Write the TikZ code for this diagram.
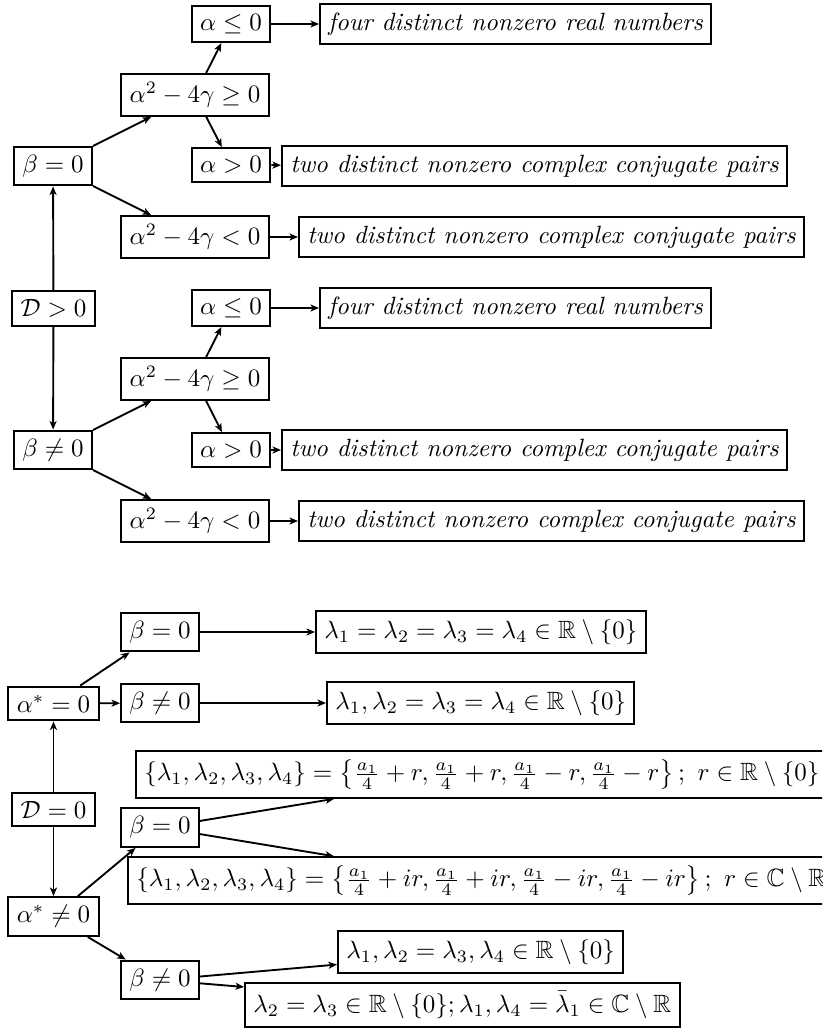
\documentclass[tikz,border=0pt]{standalone}
\usepackage{amsmath,amssymb}
\usetikzlibrary{arrows.meta,calc}
\begin{document}
\begin{tikzpicture}[x=0.4pt,y=-0.4pt,
  box/.style={draw,line width=0.8pt,inner sep=3.33pt},
  tbox/.style={box,anchor=west},
  arr/.style={line width=0.75pt,-{Stealth[length=3.4pt,width=2.8pt,inset=0.9pt]}}]
\useasboundingbox (0,0) rectangle (822,1030);
\clip (0,0) rectangle (822,1030);
% ---------- D > 0 ----------
\node[box] (dpos) at (53.5,308.5) {$\mathcal{D}>0$};
\node[box] (b0) at (53,166) {$\beta=0$};
\node[box] (bn0) at (53,450) {$\beta\neq0$};
\node[box] (q1) at (195,95) {$\alpha^2-4\gamma\geq0$};
\node[box] (q2) at (195,237) {$\alpha^2-4\gamma<0$};
\node[box] (a1) at (231,24) {$\alpha\leq0$};
\node[box] (a2) at (231,165) {$\alpha>0$};
\node[tbox] (t1) at (319,24) {\textit{four distinct nonzero real numbers}};
\node[tbox] (t2) at (281,166) {\textit{two distinct nonzero complex conjugate pairs}};
\node[tbox] (t3) at (298,237) {\textit{two distinct nonzero complex conjugate pairs}};
\node[box] (q3) at (195,379) {$\alpha^2-4\gamma\geq0$};
\node[box] (q4) at (195,521) {$\alpha^2-4\gamma<0$};
\node[box] (a3) at (231,308) {$\alpha\leq0$};
\node[box] (a4) at (231,450) {$\alpha>0$};
\node[tbox] (t4) at (319,308) {\textit{four distinct nonzero real numbers}};
\node[tbox] (t5) at (281,450) {\textit{two distinct nonzero complex conjugate pairs}};
\node[tbox] (t6) at (298,521) {\textit{two distinct nonzero complex conjugate pairs}};
\draw[arr] (dpos) -- (b0);
\draw[arr] (dpos) -- (bn0);
\draw[arr] (b0) -- (q1);
\draw[arr] (b0) -- (q2);
\draw[arr] (q1) -- (a1);
\draw[arr] (q1) -- (a2);
\draw[arr] (a1) -- (t1);
\draw[arr] (a2) -- (t2);
\draw[arr] (q2) -- (t3);
\draw[arr] (bn0) -- (q3);
\draw[arr] (bn0) -- (q4);
\draw[arr] (q3) -- (a3);
\draw[arr] (q3) -- (a4);
\draw[arr] (a3) -- (t4);
\draw[arr] (a4) -- (t5);
\draw[arr] (q4) -- (t6);
% ---------- D = 0 ----------
\node[box] (d0) at (53.5,809.5) {$\mathcal{D}=0$};
\node[box] (as0) at (53.5,703.5) {$\alpha^*=0$};
\node[box] (asn) at (53.5,916.5) {$\alpha^*\neq0$};
\node[box] (c1) at (160,632) {$\beta=0$};
\node[box] (c2) at (160,703) {$\beta\neq0$};
\node[box] (c3) at (160,827.5) {$\beta=0$};
\node[box] (c4) at (160,980) {$\beta\neq0$};
\node[tbox] (r1) at (315,632) {$\lambda_1=\lambda_2=\lambda_3=\lambda_4\in\mathbb{R}\setminus\{0\}$};
\node[tbox] (r2) at (326,703) {$\lambda_1,\lambda_2=\lambda_3=\lambda_4\in\mathbb{R}\setminus\{0\}$};
\node[tbox] (big1) at (135,774.5) {$\{\lambda_1,\lambda_2,\lambda_3,\lambda_4\}=\left\{\frac{a_1}{4}+r,\frac{a_1}{4}+r,\frac{a_1}{4}-r,\frac{a_1}{4}-r\right\};\ r\in\mathbb{R}\setminus\{0\}$};
\node[tbox] (big2) at (127,880.5) {$\{\lambda_1,\lambda_2,\lambda_3,\lambda_4\}=\left\{\frac{a_1}{4}+ir,\frac{a_1}{4}+ir,\frac{a_1}{4}-ir,\frac{a_1}{4}-ir\right\};\ r\in\mathbb{C}\setminus\mathbb{R}$};
\node[tbox] (r3) at (337,952) {$\lambda_1,\lambda_2=\lambda_3,\lambda_4\in\mathbb{R}\setminus\{0\}$};
\node[tbox] (r4) at (244,1005) {$\lambda_2=\lambda_3\in\mathbb{R}\setminus\{0\};\lambda_1,\lambda_4=\bar{\lambda}_1\in\mathbb{C}\setminus\mathbb{R}$};
\draw[arr] (d0) -- (as0);
\draw[arr] (d0) -- (asn);
\draw[arr] (as0) -- (c1);
\draw[arr] (as0) -- (c2);
\draw[arr] (c1) -- (r1);
\draw[arr] (c2) -- (r2);
\draw[arr] (asn) -- (c3);
\draw[arr] (asn) -- (c4);
\draw[arr] (c3) -- (big1);
\draw[arr] (c3) -- (big2);
\draw[arr] (c4) -- (r3);
\draw[arr] (c4) -- (r4);
\end{tikzpicture}
\end{document}
